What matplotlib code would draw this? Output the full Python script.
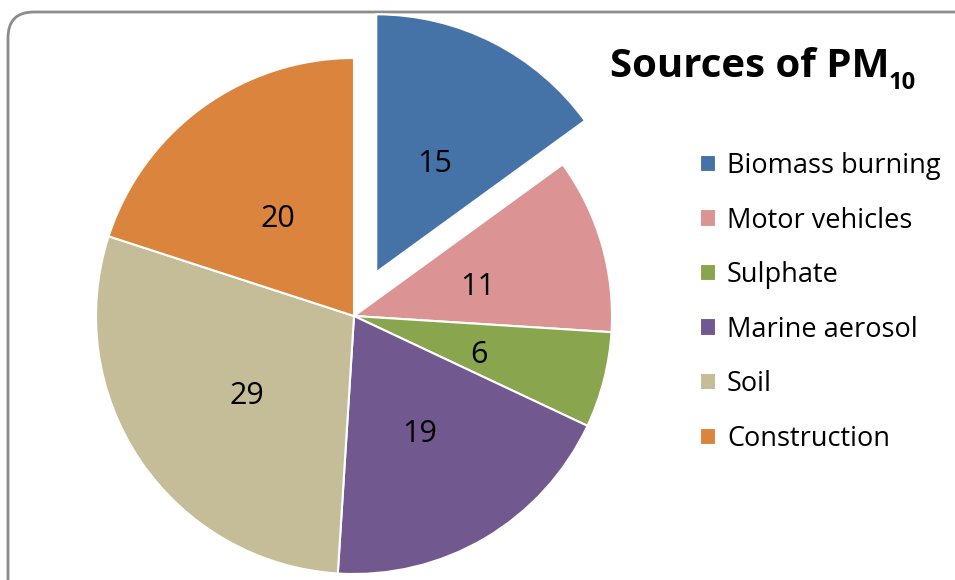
import matplotlib
matplotlib.use("Agg")
import matplotlib.pyplot as plt
from matplotlib.patches import FancyBboxPatch

plt.rcParams['font.family'] = ['Open Sans', 'DejaVu Sans']

sources = ["Biomass burning", "Motor vehicles", "Sulphate",
           "Marine aerosol", "Soil", "Construction"]
shares = [15, 11, 6, 19, 29, 20]
colors = ["#4572A7", "#DB9493", "#89A54E", "#71588F", "#C4BD97", "#DB843D"]
explode = [0.19, 0, 0, 0, 0, 0]

W, H = 955, 580
cx, cy, R = 354, 316, 258   # pie centre / radius in pixels

fig = plt.figure(figsize=(W / 100, H / 100), dpi=100)
ax = fig.add_axes([0, 0, 1, 1])

# rounded chart-area border (drawn in data units = pie radii)
def px(x, y):
    return (x - cx) / R, (cy - y) / R

x0, y0 = px(8, 12)
x1, y1 = px(990, 620)
border = FancyBboxPatch((x0, y1), x1 - x0, y0 - y1,
                        boxstyle="round,pad=0,rounding_size=0.1",
                        fc="white", ec="#8c8c8c", lw=2, zorder=0)
ax.add_patch(border)

wedges, texts, autotexts = ax.pie(
    shares, colors=colors, explode=explode, startangle=90,
    counterclock=False, radius=1, autopct=lambda p: "%d" % round(p),
    pctdistance=0.5, wedgeprops=dict(edgecolor="white", linewidth=1.5),
    textprops=dict(fontsize=22, color="black"))

for w in wedges:
    w.set_zorder(2)
for t in autotexts:
    t.set_zorder(3)
    x, y = t.get_position()
    t.set_position((x, y - 7 / R))

ax.set_xlim((0 - cx) / R, (W - cx) / R)
ax.set_ylim((cy - H) / R, cy / R)
ax.set_aspect("auto")
ax.axis("off")

title = fig.text(610 / W, 1 - 77 / H, "Sources of PM", fontsize=29,
                 fontweight="bold", ha="left", va="baseline")
fig.canvas.draw()
ax.annotate("10", xy=(1, 0), xycoords=title, xytext=(-1, -2),
            textcoords="offset points", fontsize=17, fontweight="bold",
            ha="left", va="baseline")

leg = ax.legend(wedges, sources, loc="upper left",
                bbox_to_anchor=(700 / W, 1 - 152 / H),
                bbox_transform=fig.transFigure, frameon=False,
                fontsize=19.5, handlelength=0.6, handleheight=0.6,
                handletextpad=0.4, labelspacing=0.98, borderpad=0,
                borderaxespad=0)

fig.savefig("out.png", dpi=100)
